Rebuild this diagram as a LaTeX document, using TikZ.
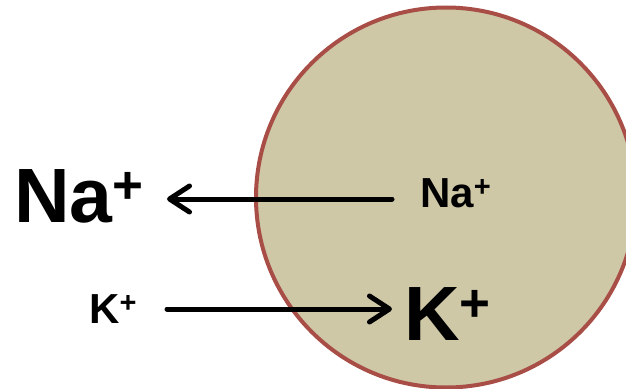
\documentclass[tikz,border=0pt]{standalone}
\usepackage{fontspec}
\setmainfont{Liberation Sans}
\usetikzlibrary{arrows.meta}
\definecolor{cellfill}{HTML}{CEC8A7}
\definecolor{cellline}{HTML}{A84E46}
\tikzset{
  bigion/.style={anchor=base west, inner sep=0pt, font=\fontsize{77}{77}\selectfont\bfseries},
  smallion/.style={anchor=base west, inner sep=0pt, font=\fontsize{42}{42}\selectfont\bfseries},
  flux/.style={line width=5pt, line cap=round, -{Straight Barb[length=20pt,width=26pt,round]}}
}
\newcommand{\bigplus}{\raisebox{19pt}{\fontsize{53}{53}\selectfont +}}
\newcommand{\smallplus}{\raisebox{11pt}{\fontsize{29}{29}\selectfont +}}
\begin{document}
\begin{tikzpicture}[x=1pt,y=-1pt]
\useasboundingbox (0,0) rectangle (626,388);
\clip (0,0) rectangle (626,388);
\filldraw[fill=cellfill, draw=cellline, line width=4pt] (446,197.5) circle (190);
\node[bigion] (bigNa) at (14,222) {Na\bigplus};
\node[smallion] (smallNa) at (420,207) {Na\smallplus};
\node[bigion] (bigK) at (404,340) {K\bigplus};
\node[smallion] (smallK) at (89,323) {K\smallplus};
\coordinate (naout) at (392,199);
\coordinate (natip) at (167,199);
\coordinate (kin) at (167,309);
\coordinate (ktip) at (392,309);
\draw[flux] (naout) -- (natip);
\draw[flux] (kin) -- (ktip);
\end{tikzpicture}
\end{document}
